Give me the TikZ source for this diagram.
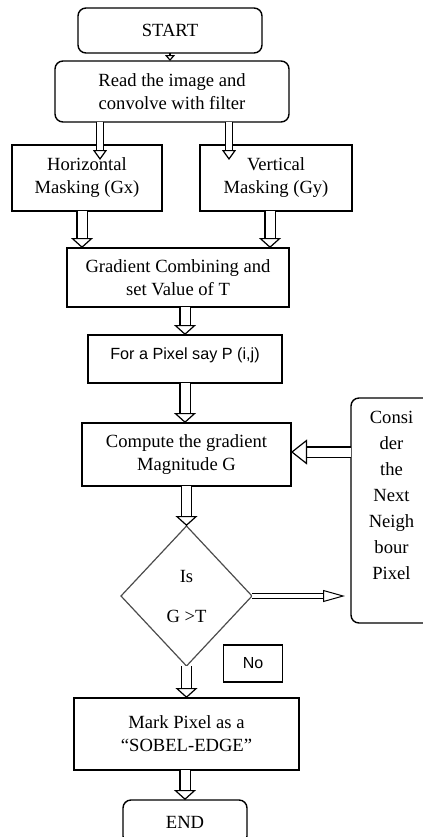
\documentclass[tikz,border=0pt]{standalone}
\usepackage{fontspec}
\setmainfont{Liberation Serif}
\newfontfamily\arialfont{Liberation Sans}
\usetikzlibrary{arrows.meta,positioning,shapes.geometric}
\tikzset{
    %Define standard arrow tip
    >={Triangle[fill=white,length=5pt,width=11pt,line width=0.6pt]},
    %Define style for boxes
    box/.style={
           rectangle,
           draw=black, line width=0.7pt,
           inner sep=2pt, outer sep=0pt,
           align=center},
    rbox/.style={
           box,
           rounded corners=4pt},
    decide/.style={
           diamond,
           draw=black!70, line width=0.6pt,
           inner sep=0pt, outer sep=0pt,
           align=center},
    % Define arrow style
    flow/.style={
           ->,
           double, double distance=4.5pt,
           line width=0.6pt},
    flowthin/.style={
           double, double distance=2.8pt,
           line width=0.6pt,
           -{Triangle[fill=white,length=5pt,width=7pt,line width=0.6pt]}},
    flowside/.style={
           double, double distance=4.5pt,
           line width=0.6pt,
           -{Triangle[fill=white,length=8pt,width=12.5pt,line width=0.6pt]}},
    flowlong/.style={
           double, double distance=2.2pt,
           line width=0.5pt,
           shorten >=3pt,
           -{Triangle[fill=white,length=11pt,width=6pt,line width=0.5pt]}},
    flowtiny/.style={
           line width=0.6pt,
           -{Triangle[fill=white,length=3pt,width=5pt,line width=0.6pt]}}
}

\begin{document}
\begin{tikzpicture}[font=\fontsize{9.3}{11.5}\selectfont]
    \useasboundingbox (0,0) rectangle (211.5pt,-418.5pt);
 %nodes
    \node[rbox, minimum width=92pt, minimum height=22.5pt] (start) at (85pt,-15.25pt) {START};
    \node[rbox, minimum width=117pt, minimum height=30.5pt, below=4pt of start, xshift=1pt] (read) {Read the image and\\convolve with filter};
    \node[box, minimum width=75pt, minimum height=33pt, below=11.5pt of read, xshift=-42.5pt] (horiz) {Horizontal\\Masking (Gx)};
    \node[box, minimum width=76pt, minimum height=33pt, below=11.5pt of read, xshift=52pt] (vert) {Vertical\\Masking (Gy)};
    \node[box, minimum width=111pt, minimum height=29.5pt, below=18.5pt of horiz, xshift=45.5pt] (grad) {Gradient Combining and\\set Value of T};
    \node[box, minimum width=97pt, minimum height=24pt, below=14pt of grad, xshift=3.5pt,
          font=\arialfont\fontsize{8.1}{10}\selectfont, text height=7pt, text depth=6.4pt] (pixel) {For a Pixel say P (i,j)};
    \node[box, minimum width=104.5pt, minimum height=31.5pt, below=20pt of pixel, xshift=0.75pt] (compute) {Compute the gradient\\Magnitude G};
    \node[decide, minimum width=65.5pt, minimum height=70pt, below=20pt of compute] (check) {Is\\[8.5pt]G >T};
    \node[rbox, minimum width=40.5pt, minimum height=112.5pt, right=30pt of compute.north east, anchor=north west, yshift=12.5pt,
          font=\fontsize{9.3}{13}\selectfont, text depth=15.5pt] (next) {Consi\\der\\the\\Next\\Neigh\\bour\\Pixel};
    \node[box, line width=0.6pt, minimum width=29.5pt, minimum height=18.5pt,
          font=\arialfont\fontsize{8}{10}\selectfont] (no) at ([shift={(33.25pt,-33.75pt)}]check.center) {No};
    \node[box, minimum width=112.5pt, minimum height=36pt, below=16pt of check] (mark) {Mark Pixel as a\\“SOBEL-EDGE”};
    \node[rbox, minimum width=62pt, minimum height=22pt, below=15pt of mark, xshift=-0.75pt] (stop) {END};
 %edges
    \draw[flowtiny] (start.south) -- (start.south |- read.north);
    \draw[flowthin] ([xshift=6.5pt]horiz.north |- read.south) -- ([xshift=6.5pt,yshift=-7.5pt]horiz.north);
    \draw[flowthin] ([xshift=-23.5pt]vert.north |- read.south) -- ([xshift=-23.5pt,yshift=-7.5pt]vert.north);
    \draw[flow] ([xshift=-2.5pt]horiz.south) -- ([xshift=-2.5pt]horiz.south |- grad.north);
    \draw[flow] ([xshift=-3pt]vert.south) -- ([xshift=-3pt]vert.south |- grad.north);
    \draw[flow] (pixel.north |- grad.south) -- (pixel.north);
    \draw[flow] (pixel.south) -- (pixel.south |- compute.north);
    \draw[flow] (check.north |- compute.south) -- (check.north);
    \draw[flow] (check.south) -- (check.south |- mark.north);
    \draw[flow] (stop.north |- mark.south) -- (stop.north);
    \draw[flowside] ([yshift=1.25pt]next.west |- compute.east) -- ([yshift=1.25pt]compute.east);
    \draw[flowlong] (check.east) -- (check.east -| next.west);
\end{tikzpicture}
\end{document}
